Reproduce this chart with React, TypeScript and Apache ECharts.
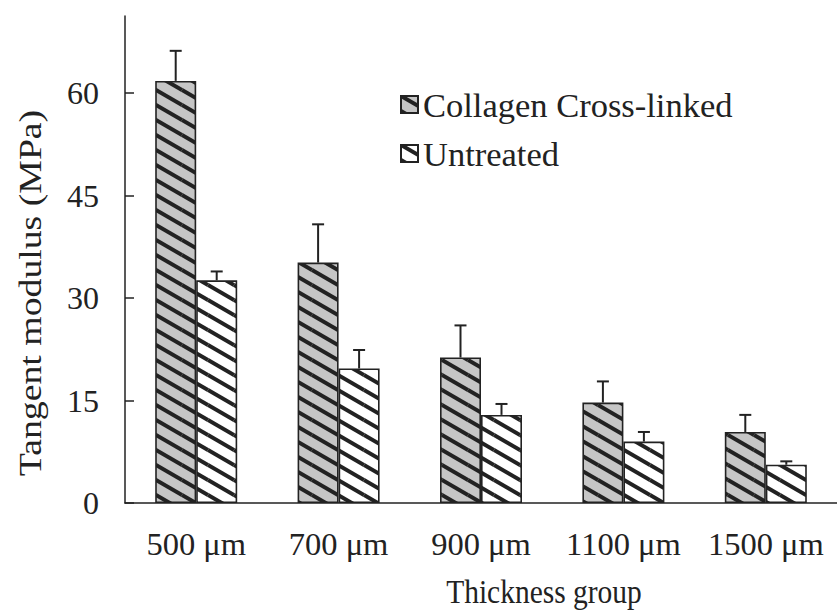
import React, { useEffect, useRef } from "react";
import * as echarts from "echarts";

const categories = ["500 μm", "700 μm", "900 μm", "1100 μm", "1500 μm"];
const crossLinked = [61.8, 35.2, 21.3, 14.7, 10.4];
const crossLinkedErr = [4.4, 5.6, 4.7, 3.1, 2.5];
const untreated = [32.6, 19.7, 12.9, 9.0, 5.6];
const untreatedErr = [1.3, 2.7, 1.6, 1.4, 0.5];
const yTicks = [0, 15, 30, 45, 60];

const FONT = '"Liberation Serif", "Times New Roman", serif';
const INK = "#222222";

function makePattern(bg: string) {
  const w = 26;
  const h = 15;
  const c = document.createElement("canvas");
  c.width = w;
  c.height = h;
  const ctx = c.getContext("2d")!;
  ctx.fillStyle = bg;
  ctx.fillRect(0, 0, w, h);
  ctx.strokeStyle = INK;
  ctx.lineWidth = 4;
  for (let dx = -1; dx <= 1; dx++) {
    for (let dy = -1; dy <= 1; dy++) {
      ctx.beginPath();
      ctx.moveTo(dx * w, dy * h);
      ctx.lineTo(dx * w + w, dy * h + h);
      ctx.stroke();
    }
  }
  return { image: c, repeat: "repeat" } as any;
}

export default function App() {
  const ref = useRef<HTMLDivElement>(null);
  useEffect(() => {
    if (!ref.current) return;
    const chart = echarts.init(ref.current, null, { renderer: "svg" });
    const grayPat = makePattern("#c6c6c6");
    const whitePat = makePattern("#ffffff");
    const BW = 41;
    const errSeries = (name: string, vals: number[], errs: number[], off: number) => ({
      type: "custom",
      name,
      z: 5,
      silent: true,
      data: vals.map((v, i) => [i, v, errs[i]]),
      renderItem: (params: any, api: any) => {
        const i = api.value(0);
        const v = api.value(1);
        const e = api.value(2);
        const base = api.coord([i, v]);
        const top = api.coord([i, v + e]);
        const x = base[0] + off;
        return {
          type: "group",
          children: [
            {
              type: "line",
              shape: { x1: x, y1: base[1], x2: x, y2: top[1] },
              style: { stroke: INK, lineWidth: 2 },
            },
            {
              type: "line",
              shape: { x1: x - 6, y1: top[1], x2: x + 6, y2: top[1] },
              style: { stroke: INK, lineWidth: 2 },
            },
          ],
        };
      },
    });
    chart.setOption({
      animation: false,
      backgroundColor: "#ffffff",
      textStyle: { fontFamily: FONT },
      grid: { left: 125, top: 16, bottom: 108, width: 725 },
      legend: {
        data: ["Collagen Cross-linked", "Untreated"],
        orient: "vertical",
        left: 395,
        top: 82,
        icon: "rect",
        itemWidth: 17,
        itemHeight: 17,
        itemGap: 14,
        textStyle: { fontFamily: FONT, fontSize: 34.5, lineHeight: 34, color: INK },
      },
      xAxis: {
        type: "category",
        data: categories,
        axisLine: { lineStyle: { color: INK, width: 1.5 } },
        axisTick: { show: false },
        axisLabel: { fontFamily: FONT, fontSize: 32.5, color: INK, margin: 24, interval: 0 },
      },
      yAxis: {
        type: "value",
        min: 0,
        max: 71.3,
        axisLine: { show: true, lineStyle: { color: INK, width: 1.5 } },
        axisTick: { show: true, inside: true, length: 9, customValues: yTicks, lineStyle: { color: INK, width: 1.5 } },
        axisLabel: { fontFamily: FONT, fontSize: 32, color: INK, margin: 26, customValues: yTicks },
        splitLine: { show: false },
      },
      graphic: [
        {
          type: "text",
          x: 544,
          y: 592,
          scaleY: 1.15,
          style: {
            text: "Thickness group",
            fontFamily: FONT,
            fontSize: 29.5,
            fill: INK,
            align: "center",
            verticalAlign: "middle",
          },
        },
        {
          type: "text",
          x: 30,
          y: 293,
          rotation: Math.PI / 2,
          scaleX: 1.18,
          style: {
            text: "Tangent modulus (MPa)",
            fontFamily: FONT,
            fontSize: 32,
            fill: INK,
            align: "center",
            verticalAlign: "middle",
          },
        },
      ],
      series: [
        {
          type: "bar",
          name: "Collagen Cross-linked",
          data: crossLinked,
          barWidth: BW,
          barGap: "0%",
          itemStyle: { color: grayPat, borderColor: INK, borderWidth: 1.6 },
        },
        {
          type: "bar",
          name: "Untreated",
          data: untreated,
          barWidth: BW,
          barGap: "0%",
          itemStyle: { color: whitePat, borderColor: INK, borderWidth: 1.6 },
        },
        errSeries("errA", crossLinked, crossLinkedErr, -BW / 2),
        errSeries("errB", untreated, untreatedErr, BW / 2),
      ],
    });
    return () => chart.dispose();
  }, []);
  return <div ref={ref} style={{ width: 837, height: 611, position: "fixed", left: 0, top: 0 }} />;
}
